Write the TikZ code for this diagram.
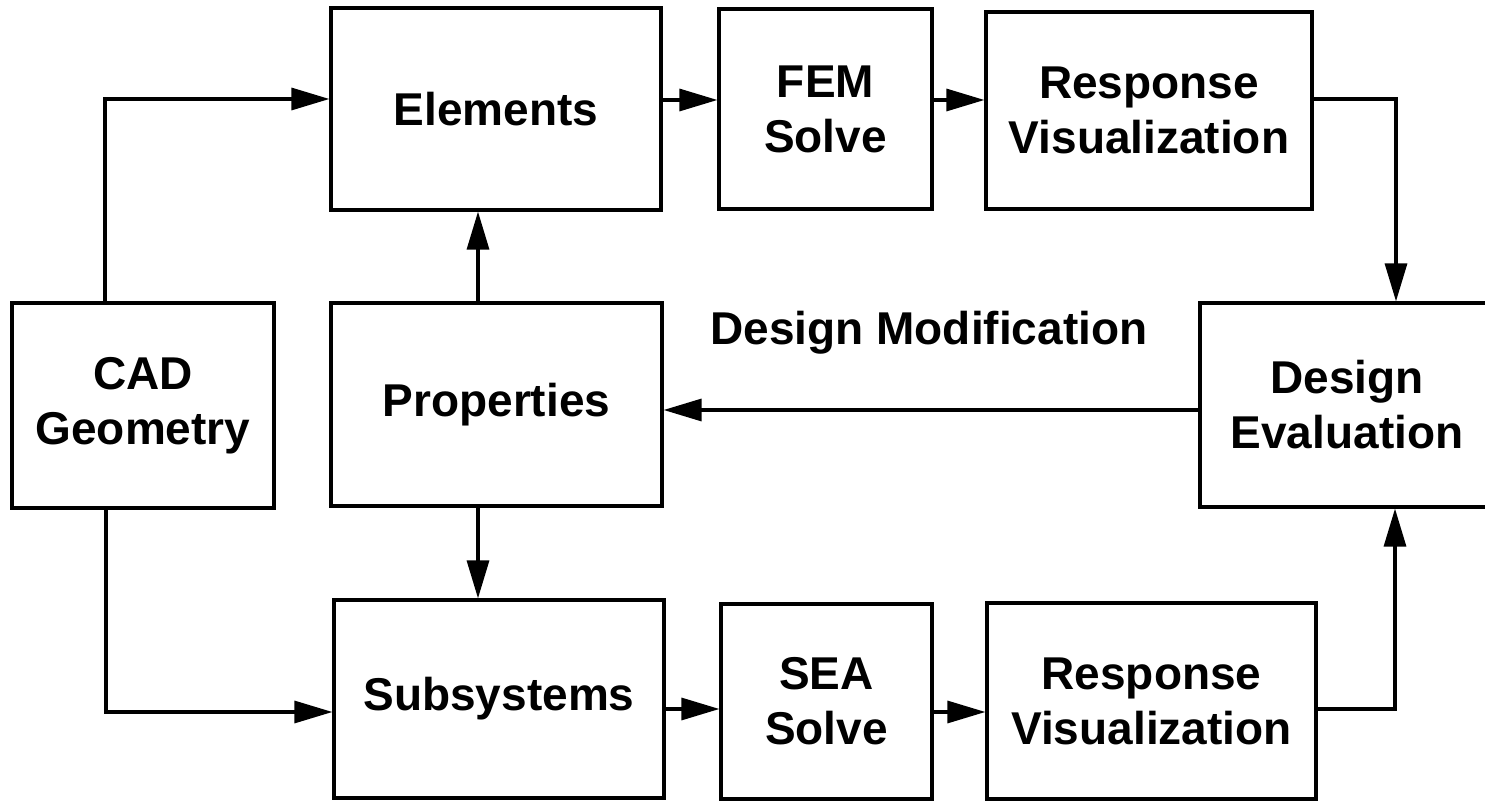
\documentclass[tikz,border=0pt]{standalone}
\usepackage{fontspec}
\setmainfont{Liberation Sans}
\usetikzlibrary{arrows.meta}
\begin{document}
\begin{tikzpicture}[x=0.5pt,y=-0.5pt,
  txt/.style={font=\fontsize{23}{27.5}\selectfont\bfseries},
  box/.style={draw,line width=1.6pt,inner sep=0pt,align=center,txt},
  arr/.style={line width=1.6pt,-{Triangle[length=19pt,width=11pt]}}]
\clip (0,0) rectangle (1485,801);
% boxes
\node[box,minimum width=131pt,minimum height=102.5pt] (cad) at (143,405.5) {CAD\\Geometry};
\node[box,minimum width=165pt,minimum height=101pt] (elem) at (496,109) {Elements};
\node[box,minimum width=165.5pt,minimum height=101.5pt] (props) at (496.5,404.5) {Properties};
\node[box,minimum width=165pt,minimum height=99pt] (subs) at (499,699) {Subsystems};
\node[box,minimum width=106.5pt,minimum height=100pt] (fem) at (825.5,109) {FEM\\Solve};
\node[box,minimum width=163pt,minimum height=98.5pt] (resp1) at (1149,110.5) {Response\\Visualization};
\node[box,minimum width=105.5pt,minimum height=97.5pt] (sea) at (826.5,701.5) {SEA\\Solve};
\node[box,minimum width=164.5pt,minimum height=98pt] (resp2) at (1151.5,701) {Response\\Visualization};
\node[box,minimum width=147pt,minimum height=102pt] (de) at (1347,405) {Design\\Evaluation};
% label
\node[txt,anchor=base west,inner sep=0pt] (dm) at (710,345) {Design Modification};
% connectors
\draw[arr] ([xshift=-19pt]cad.north) |- ([yshift=5pt]elem.west);
\draw[arr] ([xshift=-18.5pt]cad.south) |- ([yshift=-6.5pt]subs.west);
\draw[arr] ([xshift=-9.25pt]props.north) -- ([xshift=-9.25pt]props.north |- elem.south);
\draw[arr] ([xshift=-9.25pt]props.south) -- ([xshift=-9.25pt]props.south |- subs.north);
\draw[arr] ([yshift=4.5pt]elem.east) -- ([yshift=4.5pt]elem.east -| fem.west);
\draw[arr] ([yshift=4.5pt]fem.east) -- ([yshift=4.5pt]fem.east -| resp1.west);
\draw[arr] ([yshift=5.75pt]resp1.east) -| ([xshift=24.5pt]de.north);
\draw[arr] ([yshift=-2.5pt]de.west) -- ([yshift=-2.5pt]de.west -| props.east);
\draw[arr] ([yshift=-5pt]subs.east) -- ([yshift=-5pt]subs.east -| sea.west);
\draw[arr] ([yshift=-5.25pt]sea.east) -- ([yshift=-5.25pt]sea.east -| resp2.west);
\draw[arr] ([yshift=-4pt]resp2.east) -| ([xshift=24pt]de.south);
\end{tikzpicture}
\end{document}
